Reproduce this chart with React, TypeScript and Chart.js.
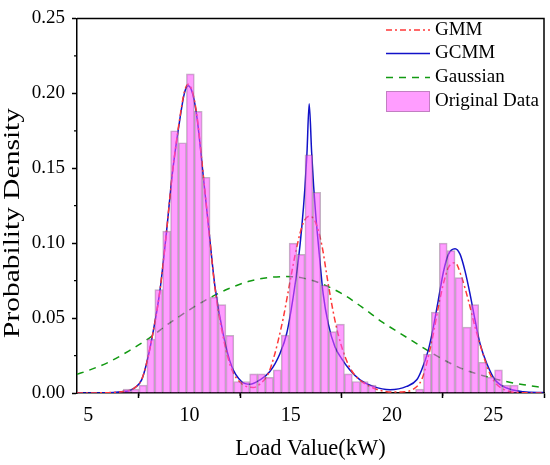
import React, { useEffect, useRef } from 'react';
import { Chart, registerables, Plugin } from 'chart.js';

Chart.register(...registerables);

// histogram of the original load data: first bin edge, bin width (kW) and density per bin
const binStart = 6.73;
const binWidth = 0.39;
const density = [
    0.0026, 0.0026, 0.0053, 0.036, 0.069, 0.108, 0.175, 0.167, 0.213, 0.188,
    0.144, 0.064, 0.059, 0.0385, 0.0077, 0.0077, 0.0128, 0.0128, 0.0104, 0.0154,
    0.0386, 0.1, 0.0925, 0.159, 0.134, 0.072, 0.041, 0.046, 0.0128, 0.0077,
    0.0077, 0.0053, 0, 0, 0, 0, 0, 0.0026, 0.026, 0.054,
    0.1, 0.095, 0.077, 0.044, 0.059, 0.0205, 0.0106, 0.0154, 0.0053, 0.0053,
];

// fitted curves, [load, density]
const gmmCurve: [number, number][] = [
    [4.45, 0], [6.0, 0.0002], [6.5, 0.0006], [6.8, 0.0011], [7.06, 0.0018], [7.39, 0.0045],
    [7.64, 0.009], [7.8, 0.0155], [7.96, 0.0243], [8.13, 0.0352], [8.54, 0.068], [8.84, 0.104],
    [9.17, 0.148], [9.53, 0.184], [9.75, 0.201], [9.94, 0.206], [10.15, 0.201], [10.38, 0.184],
    [10.68, 0.146], [10.98, 0.106], [11.26, 0.07], [11.67, 0.037], [12.08, 0.016], [12.58, 0.0062],
    [12.9, 0.004], [13.15, 0.0037], [13.5, 0.0062], [13.9, 0.0132], [14.22, 0.0264], [14.38, 0.035],
    [14.63, 0.05], [14.96, 0.074], [15.29, 0.097], [15.62, 0.1135], [15.92, 0.118], [16.2, 0.1146],
    [16.53, 0.099], [16.85, 0.0727], [17.18, 0.0485], [17.51, 0.031], [17.84, 0.019], [18.1, 0.013],
    [18.42, 0.0085], [18.91, 0.0044], [19.4, 0.0018], [20.0, 0.0006], [20.6, 0.0008], [21.05, 0.0025],
    [21.46, 0.0088], [21.71, 0.0198], [22.04, 0.0397], [22.28, 0.057], [22.53, 0.0727], [22.78, 0.0837],
    [23.11, 0.087], [23.44, 0.077], [23.77, 0.0617], [24.1, 0.044], [24.43, 0.0286], [24.75, 0.0154],
    [25.08, 0.007], [25.49, 0.0026], [26.15, 0.0004], [27.5, 0],
];

const gcmmCurve: [number, number][] = [
    [4.45, 0], [6.0, 0.0002], [6.5, 0.0006], [6.8, 0.0011], [7.06, 0.0017], [7.39, 0.0044],
    [7.64, 0.0088], [7.8, 0.0154], [7.96, 0.0242], [8.13, 0.0352], [8.54, 0.068], [8.84, 0.104],
    [9.17, 0.148], [9.53, 0.183], [9.75, 0.2], [9.94, 0.205], [10.15, 0.2], [10.38, 0.183],
    [10.68, 0.145], [10.98, 0.106], [11.26, 0.071], [11.67, 0.039], [12.08, 0.018], [12.58, 0.0075],
    [12.99, 0.0058], [13.48, 0.0088], [13.97, 0.0143], [14.47, 0.0264], [14.8, 0.0397], [15.12, 0.0639],
    [15.37, 0.0881], [15.54, 0.11], [15.7, 0.137], [15.8, 0.16], [15.91, 0.193], [16.03, 0.161],
    [16.13, 0.138], [16.24, 0.118], [16.41, 0.0925], [16.6, 0.0661], [16.85, 0.0463], [17.18, 0.0308],
    [17.51, 0.023], [17.92, 0.0154], [18.42, 0.0088], [19.07, 0.0044], [19.9, 0.0022], [20.72, 0.0044],
    [21.22, 0.0088], [21.46, 0.0154], [21.79, 0.0286], [22.04, 0.044], [22.28, 0.0617], [22.53, 0.0804],
    [22.78, 0.0925], [23.11, 0.0963], [23.36, 0.0925], [23.6, 0.0815], [23.85, 0.066], [24.1, 0.0485],
    [24.34, 0.033], [24.67, 0.0198], [25.08, 0.0088], [25.66, 0.0033], [26.48, 0.0009], [27.5, 0.0003],
];

const gaussCurve: [number, number][] = [
    [4.45, 0.0125], [5, 0.015], [6, 0.0205], [7, 0.028], [8, 0.0365], [9, 0.0465], [10, 0.0555],
    [11, 0.0635], [12, 0.07], [13, 0.0748], [14, 0.0772], [14.7, 0.0777], [15.5, 0.077], [16.5, 0.073],
    [17.5, 0.0665], [18.5, 0.0575], [19.5, 0.0475], [20.5, 0.039], [21.5, 0.0305], [22.5, 0.0225],
    [23.5, 0.016], [24.5, 0.0115], [25.5, 0.008], [26.5, 0.0055], [27.5, 0.0035],
];

const xTicks = [5, 10, 15, 20, 25];
const xMinor = [7.5, 12.5, 17.5, 22.5];
const yMinor = [0.025, 0.075, 0.125, 0.175, 0.225];

const FONT = "'Liberation Serif', 'Times New Roman', serif";
const RED = '#FF3838';
const BLUE = '#1212C8';
const GREEN = '#129A12';
const BAR_FILL = 'rgba(255, 80, 255, 0.56)';
const BAR_EDGE = 'rgba(120, 90, 120, 0.45)';

const legendItems = [
    { label: 'GMM', color: RED, dash: [6, 3, 2, 3] },
    { label: 'GCMM', color: BLUE, dash: [] as number[] },
    { label: 'Gaussian', color: GREEN, dash: [7, 6] },
    { label: 'Original Data', color: null, dash: [] as number[] },
];

// frame, minor ticks, y title and the legend inside the plot
const decor: Plugin = {
    id: 'decor',
    afterDraw(chart) {
        const { ctx, chartArea: a, scales } = chart;
        ctx.save();
        ctx.strokeStyle = '#000';
        ctx.lineWidth = 1.5;
        ctx.beginPath();
        ctx.moveTo(a.left, a.top);
        ctx.lineTo(a.right, a.top);
        ctx.lineTo(a.right, a.bottom);
        ctx.stroke();

        ctx.lineWidth = 1.2;
        ctx.beginPath();
        xMinor.forEach(v => {
            const px = scales.x.getPixelForValue(v);
            ctx.moveTo(px, a.bottom);
            ctx.lineTo(px, a.bottom + 3);
        });
        yMinor.forEach(v => {
            const py = scales.y.getPixelForValue(v);
            ctx.moveTo(a.left, py);
            ctx.lineTo(a.left - 3, py);
        });
        ctx.stroke();

        // y axis title (stretched along its length like the original)
        const title = 'Probability Density';
        ctx.font = `23px ${FONT}`;
        ctx.fillStyle = '#000';
        ctx.textAlign = 'center';
        ctx.textBaseline = 'middle';
        const w = ctx.measureText(title).width;
        ctx.save();
        ctx.translate(13, 223);
        ctx.rotate(-Math.PI / 2);
        ctx.scale(230 / w, 1);
        ctx.fillText(title, 0, 0);
        ctx.restore();

        // legend
        ctx.font = `19px ${FONT}`;
        ctx.textAlign = 'left';
        const rows = [30, 53.5, 77.5, 101.5];
        legendItems.forEach((item, i) => {
            const yy = rows[i];
            if (item.color) {
                ctx.strokeStyle = item.color;
                ctx.lineWidth = 1.5;
                ctx.setLineDash(item.dash);
                ctx.beginPath();
                ctx.moveTo(386, yy);
                ctx.lineTo(430, yy);
                ctx.stroke();
                ctx.setLineDash([]);
            } else {
                ctx.fillStyle = BAR_FILL;
                ctx.fillRect(386, yy - 10.5, 44, 21);
                ctx.strokeStyle = BAR_EDGE;
                ctx.lineWidth = 1;
                ctx.strokeRect(386.5, yy - 10, 43, 20);
            }
            ctx.fillStyle = '#000';
            ctx.fillText(item.label, 435, yy);
        });
        ctx.restore();
    },
};

const toPoints = (c: [number, number][]) => c.map(([x, y]) => ({ x, y }));

export default function App() {
    const canvasRef = useRef<HTMLCanvasElement>(null);

    useEffect(() => {
        if (!canvasRef.current) return;

        const bars = density.map((d, i) => ({ x: binStart + binWidth * (i + 0.5), y: d }));

        const chart = new Chart(canvasRef.current, {
            type: 'line',
            data: {
                datasets: [
                    {
                        type: 'bar',
                        label: 'Original Data',
                        data: bars,
                        backgroundColor: BAR_FILL,
                        borderColor: BAR_EDGE,
                        borderWidth: 1,
                        barPercentage: 1,
                        categoryPercentage: 1,
                        order: 0,
                    },
                    {
                        label: 'GMM',
                        data: toPoints(gmmCurve),
                        borderColor: RED,
                        borderWidth: 1.5,
                        borderDash: [6, 3, 2, 3],
                        pointRadius: 0,
                        cubicInterpolationMode: 'monotone',
                        order: 1,
                    },
                    {
                        label: 'GCMM',
                        data: toPoints(gcmmCurve),
                        borderColor: BLUE,
                        borderWidth: 1.5,
                        pointRadius: 0,
                        cubicInterpolationMode: 'monotone',
                        order: 1,
                    },
                    {
                        label: 'Gaussian',
                        data: toPoints(gaussCurve),
                        borderColor: GREEN,
                        borderWidth: 1.5,
                        borderDash: [7, 6],
                        pointRadius: 0,
                        cubicInterpolationMode: 'monotone',
                        order: 1,
                    },
                ] as any,
            },
            options: {
                responsive: false,
                animation: false,
                layout: { padding: { top: 15, right: 6, left: 0, bottom: 0 } },
                plugins: {
                    legend: { display: false },
                    tooltip: { enabled: false },
                },
                scales: {
                    x: {
                        type: 'linear',
                        min: 4.45,
                        max: 27.5,
                        offset: false,
                        afterBuildTicks: (s: any) => {
                            s.ticks = xTicks.map(v => ({ value: v }));
                        },
                        afterFit: (s: any) => {
                            s.height = 72;
                        },
                        grid: {
                            display: true,
                            drawOnChartArea: false,
                            drawTicks: true,
                            tickLength: 5,
                            tickWidth: 1.5,
                            tickColor: '#000',
                        },
                        border: { display: true, color: '#000', width: 1.5 },
                        ticks: {
                            color: '#000',
                            font: { family: FONT, size: 20 },
                            padding: 6,
                            maxRotation: 0,
                        },
                        title: {
                            display: true,
                            text: 'Load Value(kW)',
                            color: '#000',
                            font: { family: FONT, size: 22.5 },
                            padding: { top: 0, bottom: 2 },
                        },
                    },
                    y: {
                        type: 'linear',
                        min: 0,
                        max: 0.25,
                        afterFit: (s: any) => {
                            s.width = 77;
                        },
                        grid: {
                            display: true,
                            drawOnChartArea: false,
                            drawTicks: true,
                            tickLength: 5,
                            tickWidth: 1.5,
                            tickColor: '#000',
                        },
                        border: { display: true, color: '#000', width: 1.5 },
                        ticks: {
                            stepSize: 0.05,
                            color: '#000',
                            font: { family: FONT, size: 19 },
                            padding: 7,
                            callback: (v: any) => Number(v).toFixed(2),
                        },
                    },
                },
            },
            plugins: [decor],
        });

        return () => chart.destroy();
    }, []);

    return (
        <div style={{ position: 'absolute', left: 0, top: 0, width: 550, height: 465, background: '#fff' }}>
            <canvas ref={canvasRef} width={550} height={465} style={{ display: 'block' }} />
        </div>
    );
}
